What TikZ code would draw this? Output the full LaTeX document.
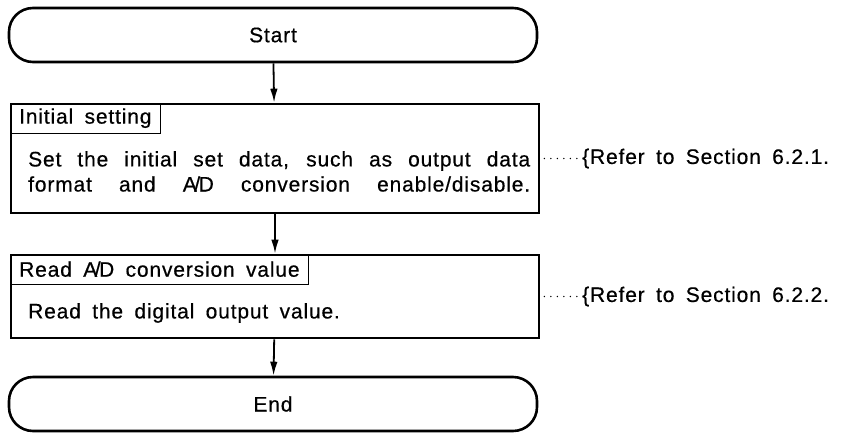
\documentclass[tikz,border=0pt]{standalone}
\usepackage{fontspec}
\setmainfont{Liberation Sans}[LetterSpace=4,WordSpace=1.7,FakeBold=0.5]
\usetikzlibrary{arrows.meta}
\newcommand{\AD}{A\kern-2.5pt/\kern-1.5pt D}

\begin{document}
\begin{tikzpicture}[x=1pt,y=-1pt,font=\fontsize{21}{25}\selectfont,
  term/.style={draw,line width=2.6pt,rounded corners=24pt,minimum width=528pt,minimum height=54pt,inner sep=0pt},
  stepbox/.style={draw,line width=2.6pt,minimum width=528pt,inner sep=0pt},
  ttl/.style={draw,line width=1pt,anchor=north west,minimum height=30pt,inner xsep=9pt,inner ysep=0pt},
  txt/.style={anchor=west,inner sep=0pt},
  note/.style={anchor=west,inner sep=0pt},
  flow/.style={line width=1.8pt,-{Latex[length=14pt,width=7.5pt]}},
  dots/.style={line width=1.6pt,line cap=round,dash pattern=on 0pt off 6.5pt,shorten <=4pt,shorten >=-2pt}]
  \useasboundingbox (0,0) rectangle (856,434);
  \node[term] (start) at (273,35) {Start};
  \node[stepbox,minimum height=109pt] (init) at (275,158.5) {};
  \node[ttl] (initttl) at (init.north west) {Initial setting};
  \node[txt] (initl1) at (28,161) {\makebox[502pt][s]{Set the initial set data, such as output data}};
  \node[txt] (initl2) at (28,184) {\makebox[502pt][s]{format and \AD{} conversion enable/disable.}};
  \node[stepbox,minimum height=83pt] (read) at (275,296.5) {};
  \node[ttl] (readttl) at (read.north west) {Read \AD{} conversion value};
  \node[txt] (readl1) at (28,313) {Read the digital output value.};
  \node[term] (end) at (273,404) {End};
  \node[note] (ref1) at (582,158.5) {\{Refer to Section 6.2.1.};
  \node[note] (ref2) at (582,296.5) {\{Refer to Section 6.2.2.};
  \draw[flow] (start) -- (init);
  \draw[flow] (init) -- (read);
  \draw[flow] (read) -- (end);
  \draw[dots] (init.east) -- (ref1.west);
  \draw[dots] (read.east) -- (ref2.west);
\end{tikzpicture}
\end{document}
